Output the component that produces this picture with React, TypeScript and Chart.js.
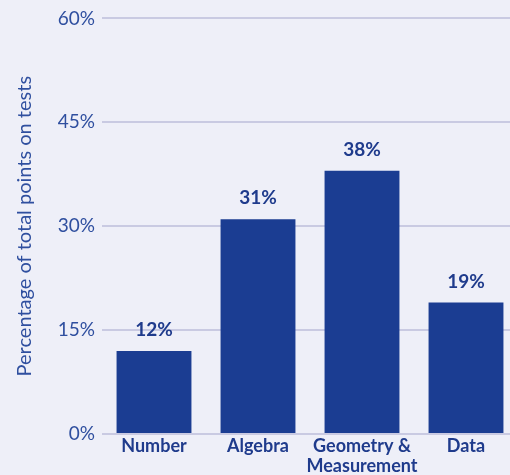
import React, { useEffect, useRef } from "react";
import { Chart, registerables } from "chart.js";

Chart.register(...registerables);

const categories: (string | string[])[] = ["Number", "Algebra", ["Geometry &", "Measurement"], "Data"];
const values: number[] = [12, 31, 38, 19];
const yTicks: number[] = [0, 15, 30, 45, 60];
const yTitle = "Percentage of total points on tests";

const BG = "#eeeff8";
const BAR = "#1b3d92";
const TICK = "#2f4f9f";
const LABEL = "#1f3b8c";
const GRID = "#c9cae2";
const FONT = "Lato, 'Open Sans', sans-serif";

const valueLabels = {
  id: "valueLabels",
  afterDatasetsDraw(chart: any) {
    const ctx = chart.ctx;
    const meta = chart.getDatasetMeta(0);
    ctx.save();
    ctx.fillStyle = LABEL;
    ctx.font = `bold 19px ${FONT}`;
    ctx.textAlign = "center";
    ctx.textBaseline = "middle";
    meta.data.forEach((el: any, i: number) => {
      ctx.fillText(values[i] + "%", el.x, el.y - 21);
    });
    ctx.restore();
  },
};

export default function App() {
  const ref = useRef<HTMLCanvasElement>(null);
  useEffect(() => {
    if (!ref.current) return;
    const chart = new Chart(ref.current, {
      type: "bar",
      data: {
        labels: categories,
        datasets: [
          {
            data: values,
            backgroundColor: BAR,
            barPercentage: 0.72,
            categoryPercentage: 1,
          },
        ],
      },
      options: {
        animation: false,
        responsive: false,
        maintainAspectRatio: false,
        layout: { padding: { top: 17, left: 0, right: 0, bottom: 0 } },
        plugins: { legend: { display: false }, tooltip: { enabled: false } },
        scales: {
          x: {
            grid: { display: false, drawTicks: false },
            border: { display: false },
            ticks: {
              color: LABEL,
              font: { family: FONT, size: 18, weight: "bold", lineHeight: 1.1 },
              padding: 2,
              maxRotation: 0,
              autoSkip: false,
            },
            afterFit: (s: any) => {
              s.height = 41;
            },
          },
          y: {
            min: 0,
            max: 60,
            afterBuildTicks: (s: any) => {
              s.ticks = yTicks.map((v) => ({ value: v }));
            },
            grid: { color: GRID, lineWidth: 2, drawTicks: false },
            border: { display: false },
            ticks: {
              color: TICK,
              font: { family: FONT, size: 19 },
              padding: 7,
              callback: (v: any) => v + "%",
            },
            title: {
              display: true,
              text: yTitle,
              color: TICK,
              font: { family: FONT, size: 20 },
              padding: { top: 13, bottom: 0 },
            },
            afterFit: (s: any) => {
              s.width = 102;
            },
          },
        },
      },
      plugins: [valueLabels],
    });
    return () => chart.destroy();
  }, []);
  return (
    <div
      style={{
        position: "fixed",
        left: 0,
        top: 0,
        width: 510,
        height: 475,
        overflow: "hidden",
        background: BG,
      }}
    >
      <canvas ref={ref} width={518} height={475} style={{ display: "block", width: 518, height: 475 }} />
    </div>
  );
}
